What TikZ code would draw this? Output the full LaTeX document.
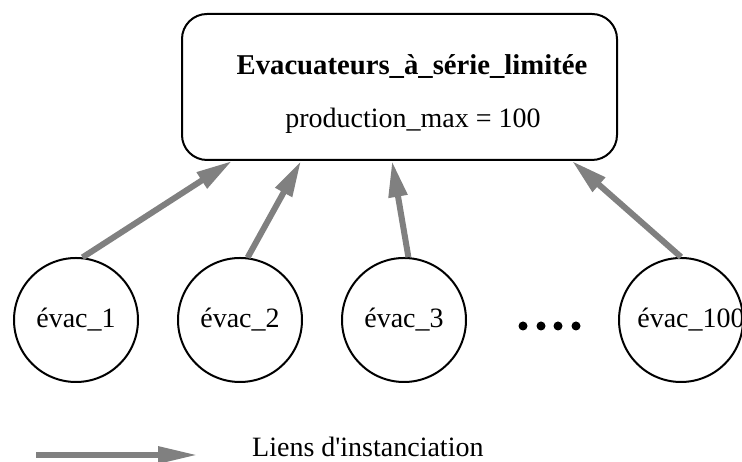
\documentclass[tikz,border=0pt]{standalone}
\usepackage{fontspec}
\setmainfont{Liberation Serif}
\usetikzlibrary{arrows.meta,positioning,calc}

\begin{document}
\begin{tikzpicture}[
		x=1pt,y=1pt,
		lab/.style={font=\fontsize{28}{34}\selectfont,inner sep=0pt},
		arr/.style={-{Triangle[length=36pt,width=18pt]},draw=gray,line width=6pt},
		classbox/.style={draw,line width=2pt,rounded corners=25pt,minimum width=435pt,minimum height=146pt,inner sep=0pt},
		inst/.style={draw,circle,line width=2pt,minimum size=124pt,inner sep=0pt,font=\fontsize{28}{34}\selectfont},
		dot/.style={circle,fill=black,inner sep=0pt,minimum size=9pt}
		]
		
		\useasboundingbox (0,0) rectangle (742,462);
		\clip (0,0) rectangle (742,462);
		
		% --- Class box
		\node[classbox] (box) at (399.5,375) {};
		\node[lab,anchor=base,font=\fontsize{28.7}{34}\selectfont\bfseries] (title) at (412,387) {Evacuateurs\_à\_série\_limitée};
		\node[lab,anchor=base] (attr) at (413,334) {production\_max = 100};
		
		% --- Instances
		\node[inst] (e1) at (76,142) {évac\_1};
		\node[inst] (e2) at (240,142) {évac\_2};
		\node[inst] (e3) at (404,142) {évac\_3};
		\node[inst] (e4) at (681,142) {\makebox[0pt][c]{\hspace{20pt}évac\_100}};
		
		\foreach \x [count=\i] in {523,541,558,576}
		\node[dot] (d\i) at (\x,136) {};
		
		% --- Instantiation links
		\draw[arr] (e1.84) -- ([xshift=51pt]box.south west);
		\draw[arr] (e2.83) -- ([xshift=120pt]box.south west);
		\draw[arr] (e3.86) -- ([xshift=211pt]box.south west);
		\draw[arr] (e4.90) -- ([xshift=391pt]box.south west);
		
		% --- Legend
		\coordinate (ls) at (36,7);
		\coordinate (le) at (198,7);
		\draw[arr,-{Triangle[length=40pt,width=16pt]}] (ls) -- (le);
		\node[lab,anchor=base west] (leg) at (252,5) {Liens d\textquotesingle instanciation};
		
	\end{tikzpicture}
\end{document}
